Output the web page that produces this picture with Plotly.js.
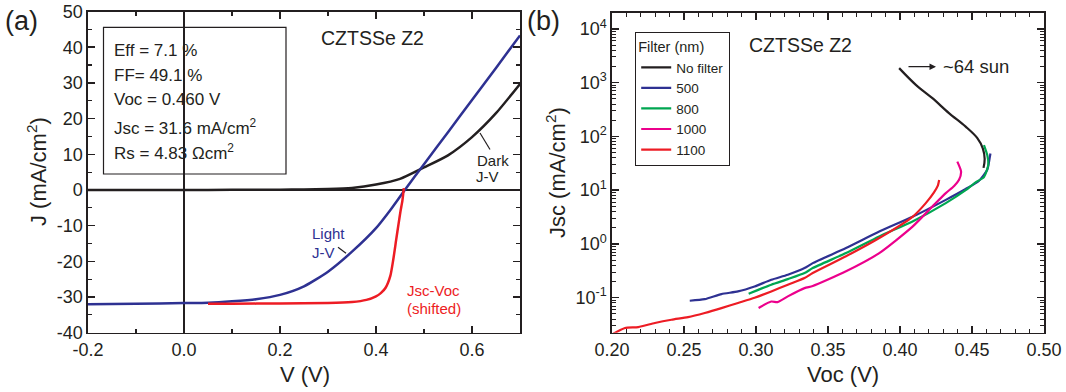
<!DOCTYPE html>
<html>
<head>
<meta charset="utf-8">
<script src="https://cdn.plot.ly/plotly-3.0.1.min.js"></script>
<style>html,body{margin:0;padding:0;background:#fff;}#chart{width:1066px;height:392px;}</style>
</head>
<body>
<div id="chart"></div>
<script>
// ---------- Panel (a): J-V curves ----------
const V_dark = [-0.2, -0.1, 0.0, 0.1, 0.2, 0.25, 0.3, 0.35, 0.4, 0.45, 0.5, 0.55, 0.6, 0.65, 0.7];
const J_dark = [-0.05, 0.0, 0.0, 0.02, 0.08, 0.15, 0.25, 0.55, 1.5, 3.1, 6.3, 9.7, 14.8, 21.5, 29.7];

const V_light = [-0.2, -0.1, 0.0, 0.05, 0.1, 0.15, 0.2, 0.25, 0.3, 0.35, 0.4, 0.43, 0.46, 0.5, 0.55, 0.6, 0.65, 0.7];
const J_light = [-32.0, -31.9, -31.7, -31.6, -31.2, -30.6, -29.4, -27.0, -22.9, -17.3, -10.7, -5.6, 0.0, 7.2, 16.2, 25.2, 34.2, 43.3];

const V_jscvoc = [0.05, 0.1, 0.2, 0.3, 0.35, 0.38, 0.40, 0.41, 0.42, 0.43, 0.436, 0.442, 0.447, 0.451, 0.455, 0.458];
const J_jscvoc = [-31.9, -31.9, -31.8, -31.7, -31.4, -30.8, -29.8, -28.9, -27.4, -24.0, -19.5, -14.0, -9.5, -6.0, -3.0, 0.5];

const a_xticks = [-0.2, 0.0, 0.2, 0.4, 0.6];
const a_xticktext = ['-0.2', '0.0', '0.2', '0.4', '0.6'];
const a_yticks = [-40, -30, -20, -10, 0, 10, 20, 30, 40, 50];
const a_yticktext = ['-40', '-30', '-20', '-10', '0', '10', '20', '30', '40', '50'];

const a_params = ['Eff = 7.1 %', 'FF= 49.1 %', 'Voc = 0.460 V', 'Jsc = 31.6 mA/cm<sup>2</sup>', 'Rs = 4.83 \u03A9cm<sup>2</sup>'];

// ---------- Panel (b): Jsc-Voc under filters ----------
const filterNames = ['No filter', '500', '800', '1000', '1100'];

const Voc_nofilter = [0.3994, 0.411, 0.4225, 0.434, 0.4456, 0.4537, 0.4575, 0.4588, 0.458];
const Jsc_nofilter = [1860, 910, 513, 271, 152, 93, 60, 38, 26];

const Voc_500 = [0.254, 0.2644, 0.276, 0.2875, 0.299, 0.3106, 0.3221, 0.3337, 0.3394, 0.3625, 0.3856, 0.4087, 0.4318, 0.4456, 0.4549, 0.4606, 0.4623, 0.4628];
const Jsc_500 = [0.088, 0.094, 0.117, 0.131, 0.162, 0.216, 0.268, 0.356, 0.44, 0.84, 1.7, 3.2, 6.6, 10.5, 15, 24, 40, 48];

const Voc_800 = [0.2949, 0.3106, 0.3221, 0.3337, 0.3394, 0.3625, 0.3856, 0.4087, 0.4318, 0.4456, 0.4525, 0.4583, 0.4613, 0.4606, 0.4583];
const Jsc_800 = [0.119, 0.175, 0.222, 0.288, 0.356, 0.676, 1.38, 2.62, 5.75, 10, 14, 17.5, 29.6, 45, 69];

const Voc_1000 = [0.3018, 0.3106, 0.315, 0.3221, 0.3337, 0.3394, 0.3625, 0.3856, 0.4087, 0.4226, 0.4318, 0.4376, 0.441, 0.4424, 0.4398];
const Jsc_1000 = [0.0645, 0.085, 0.083, 0.106, 0.151, 0.165, 0.31, 0.676, 2.1, 5.0, 8.8, 12, 15.6, 22.3, 34];

const Voc_1100 = [0.2009, 0.209, 0.2182, 0.2298, 0.2413, 0.2528, 0.2644, 0.276, 0.2875, 0.299, 0.3106, 0.3221, 0.3337, 0.3394, 0.3625, 0.3856, 0.4087, 0.4179, 0.4235, 0.4262, 0.4272];
const Jsc_1100 = [0.0214, 0.0274, 0.0285, 0.0339, 0.039, 0.0436, 0.052, 0.064, 0.080, 0.1, 0.131, 0.175, 0.232, 0.288, 0.59, 1.29, 3.2, 5.75, 9, 12, 15.5];

const b_xticks = [0.20, 0.25, 0.30, 0.35, 0.40, 0.45, 0.50];
const b_yticks = [0.1, 1, 10, 100, 1000, 10000];
const b_yticktext = ['10<sup>-1</sup>', '10<sup>0</sup>', '10<sup>1</sup>', '10<sup>2</sup>', '10<sup>3</sup>', '10<sup>4</sup>'];

// ---------- styling ----------
const FONT = 'Liberation Sans, Arial, Helvetica, sans-serif';
const INK = '#231f20';
const C_BLACK = '#231f20', C_BLUE = '#2e3192', C_GREEN = '#00a651', C_MAG = '#ec008c', C_RED = '#ed1c24';
const W = 1066, H = 392;
const px = x => x / W;
const py = y => 1 - y / H;

const traces = [
  {x: V_dark, y: J_dark, xaxis: 'x', yaxis: 'y', mode: 'lines', line: {color: C_BLACK, width: 2.5, shape: 'spline', smoothing: 0.6}, showlegend: false, name: 'Dark J-V'},
  {x: V_light, y: J_light, xaxis: 'x', yaxis: 'y', mode: 'lines', line: {color: C_BLUE, width: 2.5, shape: 'spline', smoothing: 0.6}, showlegend: false, name: 'Light J-V'},
  {x: V_jscvoc, y: J_jscvoc, xaxis: 'x', yaxis: 'y', mode: 'lines', line: {color: C_RED, width: 2.5, shape: 'spline', smoothing: 0.6}, showlegend: false, name: 'Jsc-Voc (shifted)'},
  {x: Voc_nofilter, y: Jsc_nofilter, xaxis: 'x2', yaxis: 'y2', mode: 'lines', line: {color: C_BLACK, width: 2.2, shape: 'spline', smoothing: 1}, name: filterNames[0]},
  {x: Voc_500, y: Jsc_500, xaxis: 'x2', yaxis: 'y2', mode: 'lines', line: {color: C_BLUE, width: 2.2, shape: 'spline', smoothing: 0.6}, name: filterNames[1]},
  {x: Voc_800, y: Jsc_800, xaxis: 'x2', yaxis: 'y2', mode: 'lines', line: {color: C_GREEN, width: 2.2, shape: 'spline', smoothing: 0.6}, name: filterNames[2]},
  {x: Voc_1000, y: Jsc_1000, xaxis: 'x2', yaxis: 'y2', mode: 'lines', line: {color: C_MAG, width: 2.2, shape: 'spline', smoothing: 0.6}, name: filterNames[3]},
  {x: Voc_1100, y: Jsc_1100, xaxis: 'x2', yaxis: 'y2', mode: 'lines', line: {color: C_RED, width: 2.2, shape: 'spline', smoothing: 0.6}, name: filterNames[4]}
];

const axBase = {
  showline: true, linecolor: INK, linewidth: 1.6, mirror: 'ticks',
  ticks: 'inside', ticklen: 7, tickwidth: 1.4, tickcolor: INK,
  showgrid: false, zeroline: false,
  tickfont: {family: FONT, size: 18, color: INK},
  fixedrange: true
};

const layout = {
  width: W, height: H,
  margin: {l: 0, r: 0, t: 0, b: 0},
  paper_bgcolor: '#fff', plot_bgcolor: '#fff',
  font: {family: FONT, color: INK},
  xaxis: Object.assign({}, axBase, {
    domain: [px(88), px(520)], range: [-0.2, 0.7], anchor: 'y',
    tickmode: 'array', tickvals: a_xticks, ticktext: a_xticktext,
    minor: {tickmode: 'linear', tick0: -0.2, dtick: 0.1, ticks: 'inside', ticklen: 4, tickwidth: 1.2, tickcolor: INK},
    zeroline: true, zerolinecolor: INK, zerolinewidth: 1.6
  }),
  yaxis: Object.assign({}, axBase, {
    domain: [py(332.7), py(11.5)], range: [-40, 50], anchor: 'x',
    tickmode: 'array', tickvals: a_yticks, ticktext: a_yticktext,
    minor: {tickmode: 'linear', tick0: -40, dtick: 5, ticks: 'inside', ticklen: 4, tickwidth: 1.2, tickcolor: INK},
    zeroline: true, zerolinecolor: INK, zerolinewidth: 2.6
  }),
  xaxis2: Object.assign({}, axBase, {
    domain: [px(612), px(1044)], range: [0.2, 0.5], anchor: 'y2',
    tickmode: 'array', tickvals: b_xticks, tickformat: '.2f',
    minor: {tickmode: 'linear', tick0: 0.2, dtick: 0.01, ticks: 'inside', ticklen: 4, tickwidth: 1.2, tickcolor: INK}
  }),
  yaxis2: Object.assign({}, axBase, {
    domain: [py(332.7), py(12.7)], type: 'log', range: [-1.65, 4.30], anchor: 'x2',
    tickmode: 'array', tickvals: b_yticks, ticktext: b_yticktext,
    minor: {dtick: 'D1', ticks: 'inside', ticklen: 4, tickwidth: 1.0, tickcolor: INK}
  }),
  showlegend: true,
  legend: {
    x: px(635), y: py(32), xanchor: 'left', yanchor: 'top',
    bgcolor: '#fff', bordercolor: INK, borderwidth: 1.2,
    font: {family: FONT, size: 13.5, color: INK},
    title: {text: 'Filter (nm)', font: {family: FONT, size: 14.5, color: INK}},
    tracegroupgap: 0, itemwidth: 30
  },
  shapes: [
    {type: 'rect', xref: 'paper', yref: 'paper', x0: px(103.5), x1: px(286), y0: py(174), y1: py(27.3), line: {color: INK, width: 1.2}, fillcolor: 'rgba(0,0,0,0)'},
    {type: 'line', xref: 'paper', yref: 'paper', x0: px(480), y0: py(133), x1: px(490), y1: py(149.5), line: {color: INK, width: 1.2}},
    {type: 'line', xref: 'paper', yref: 'paper', x0: px(338), y0: py(247.3), x1: px(346), y1: py(253.3), line: {color: INK, width: 1.2}}
  ],
  annotations: []
};

const ann = layout.annotations;
function txt(text, x, y, opts) {
  ann.push(Object.assign({
    text: text, xref: 'paper', yref: 'paper', x: px(x), y: py(y),
    xanchor: 'left', yanchor: 'middle', showarrow: false,
    font: {family: FONT, size: 17, color: INK}
  }, opts || {}));
}
// panel labels
txt('(a)', 3, 21, {font: {family: FONT, size: 27, color: INK}});
txt('(b)', 525, 21, {font: {family: FONT, size: 27, color: INK}});
// parameter box
const boxY = [50.5, 75, 100, 127, 152.5];
a_params.forEach((t, i) => txt(t, 112, boxY[i], {font: {family: FONT, size: 17, color: INK}}));
// sample names
txt('CZTSSe Z2', 372, 38, {xanchor: 'center', font: {family: FONT, size: 19.5, color: INK}});
txt('CZTSSe Z2', 800, 45, {xanchor: 'center', font: {family: FONT, size: 19.5, color: INK}});
// curve labels
txt('Dark', 475, 160, {font: {family: FONT, size: 15, color: INK}});
txt('J-V', 474, 177, {font: {family: FONT, size: 15, color: INK}});
txt('Light', 310, 233, {font: {family: FONT, size: 15, color: C_BLUE}});
txt('J-V', 310, 252, {font: {family: FONT, size: 15, color: C_BLUE}});
txt('Jsc-Voc', 433, 290, {xanchor: 'center', font: {family: FONT, size: 15, color: C_RED}});
txt('(shifted)', 434, 308, {xanchor: 'center', font: {family: FONT, size: 15, color: C_RED}});
// ~64 sun
txt('~64 sun', 941, 66, {font: {family: FONT, size: 18.5, color: INK}});
ann.push({text: '', xref: 'paper', yref: 'paper', x: px(936), y: py(66.7), ax: -29, ay: 0, axref: 'pixel', ayref: 'pixel',
  showarrow: true, arrowhead: 2, arrowsize: 1, arrowwidth: 1.3, arrowcolor: INK});
// axis titles placed to match the reference
txt('V (V)', 305, 374, {xanchor: 'center', font: {family: FONT, size: 22, color: INK}});
txt('J (mA/cm<sup>2</sup>)', 37, 172, {xanchor: 'center', textangle: -90, font: {family: FONT, size: 22, color: INK}});
txt('Jsc (mA/cm<sup>2</sup>)', 556, 173, {xanchor: 'center', textangle: -90, font: {family: FONT, size: 22, color: INK}});
txt('Voc (V)', 843, 374, {xanchor: 'center', font: {family: FONT, size: 22, color: INK}});

Plotly.newPlot('chart', traces, layout, {displayModeBar: false, staticPlot: true});
</script>
</body>
</html>
